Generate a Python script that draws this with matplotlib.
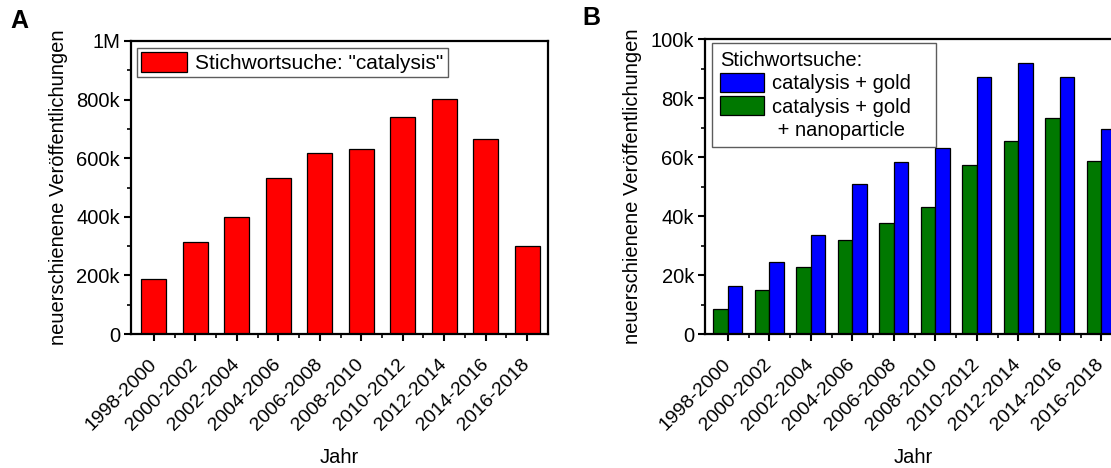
import numpy as np
import matplotlib
matplotlib.use("Agg")
import matplotlib.pyplot as plt
from matplotlib.patches import Patch
from matplotlib.ticker import FuncFormatter, MultipleLocator

plt.rcParams['font.family'] = ['Liberation Sans', 'DejaVu Sans']
plt.rcParams['font.size'] = 14.5

# data
jahre = ['1998-2000', '2000-2002', '2002-2004', '2004-2006', '2006-2008',
         '2008-2010', '2010-2012', '2012-2014', '2014-2016', '2016-2018']
catalysis = [188e3, 315e3, 398e3, 534e3, 619e3, 631e3, 742e3, 803e3, 667e3, 299e3]
gold = [16.4e3, 24.3e3, 33.5e3, 50.9e3, 58.2e3, 63.0e3, 87.0e3, 91.9e3, 87.2e3, 69.4e3]
gold_nano = [8.6e3, 14.9e3, 22.7e3, 31.9e3, 37.8e3, 43.1e3, 57.4e3, 65.3e3, 73.1e3, 58.6e3]

ylab = 'neuerschienene Veröffentlichungen'


def kfmt(v, pos):
    if v == 0:
        return '0'
    if v >= 1e6:
        return f'{v / 1e6:g}M'
    return f'{v / 1e3:g}k'


def style_axes(ax, major, minor, ymax):
    x = np.arange(len(jahre))
    ax.set_xlim(-0.55, len(jahre) - 0.5)
    ax.set_ylim(0, ymax)
    ax.set_xticks(x)
    ax.set_xticks(x[:-1] + 0.5, minor=True)
    ax.set_xticklabels(jahre, rotation=45, ha='right', va='center',
                       rotation_mode='anchor')
    ax.yaxis.set_major_locator(MultipleLocator(major))
    ax.yaxis.set_minor_locator(MultipleLocator(minor))
    ax.yaxis.set_major_formatter(FuncFormatter(kfmt))
    ax.tick_params(which='major', direction='out', length=5, width=1.5,
                   labelsize=14.5, pad=3)
    ax.tick_params(which='minor', direction='out', length=3, width=1.2)
    ax.tick_params(axis='x', which='major', pad=15, labelsize=14)
    for sp in ax.spines.values():
        sp.set_linewidth(1.6)
    ax.set_xlabel('Jahr', fontsize=14.5, labelpad=10)
    ax.set_ylabel(ylab, fontsize=14.5, labelpad=6)


fig = plt.figure(figsize=(11.11, 4.68), dpi=100)
axA = fig.add_axes([0.1179, 0.2863, 0.3753, 0.6261])
axB = fig.add_axes([0.6346, 0.2863, 0.3753, 0.6303])

x = np.arange(len(jahre))

# panel A
axA.bar(x, catalysis, width=0.6, color='#ff0000', edgecolor='black',
        linewidth=0.9, label='Stichwortsuche: "catalysis"')
style_axes(axA, 200e3, 100e3, 1e6)
axA.legend(loc='upper left', frameon=True, fancybox=False, edgecolor='#333333',
           fontsize=15, handlelength=2.2, handleheight=1.05, borderpad=0.2,
           handletextpad=0.4, bbox_to_anchor=(0.014, 0.976), borderaxespad=0)

# panel B
w = 0.35
axB.bar(x - w / 2, gold_nano, width=w, color='#007800', edgecolor='black', linewidth=0.9)
axB.bar(x + w / 2, gold, width=w, color='#0000ff', edgecolor='black', linewidth=0.9)
style_axes(axB, 20e3, 10e3, 100e3)
handles = [Patch(facecolor='#0000ff', edgecolor='black', linewidth=0.9),
           Patch(facecolor='#007800', edgecolor='black', linewidth=0.9),
           Patch(facecolor='none', edgecolor='none')]
labels = ['catalysis + gold   ', 'catalysis + gold   ', ' + nanoparticle']
axB.legend(handles, labels, title='Stichwortsuche:', title_fontsize=14.5,
           alignment='left', loc='upper left', frameon=True, fancybox=False,
           edgecolor='#333333', fontsize=14.5, handlelength=2.2,
           handleheight=1.05, borderpad=0.38, handletextpad=0.4,
           labelspacing=0.15, bbox_to_anchor=(0.017, 0.985), borderaxespad=0)

fig.text(0.009, 0.955, 'A', fontsize=18, fontweight='bold', va='center')
fig.text(0.524, 0.962, 'B', fontsize=18, fontweight='bold', va='center')

fig.savefig('out.png', dpi=100)
